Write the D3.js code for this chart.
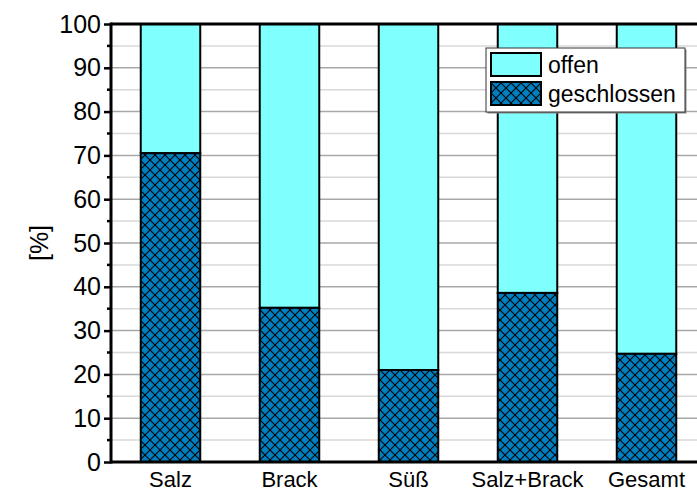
<!DOCTYPE html>
<html><head><meta charset="utf-8">
<script src="https://cdn.jsdelivr.net/npm/d3@7"></script>
<style>body{margin:0;background:#fff}svg{display:block}</style>
</head><body>
<svg id="c" width="697" height="494"></svg>
<script>
const categories = ["Salz","Brack","Süß","Salz+Brack","Gesamt"];
const geschlossen = [70.5, 35.2, 21.0, 38.6, 24.7];
const offen = [29.5, 64.8, 79.0, 61.4, 75.3];
const yTicks = [0,10,20,30,40,50,60,70,80,90,100];
const seriesNames = ["offen","geschlossen"];

const svg = d3.select("#c");
const W = 697, H = 494;
const m = {left:111, top:24, right:-9, bottom:32};
const x = d3.scaleBand().domain(categories).range([m.left, W - m.right]).paddingInner(0.5).paddingOuter(0.25);
const y = d3.scaleLinear().domain([0,100]).range([H - m.bottom, m.top]);
const font = "Liberation Sans, Arial, sans-serif";

const defs = svg.append("defs");
const pat = defs.append("pattern").attr("id","hatch").attr("patternUnits","userSpaceOnUse")
  .attr("width",10).attr("height",10);
pat.append("rect").attr("width",10).attr("height",10).attr("fill","#0080C0");
pat.append("path").attr("d","M0,0L10,10M10,0L0,10M-1,9L1,11M9,-1L11,1").attr("stroke","#000").attr("stroke-width",1.1);

// grid
const minor = d3.range(5,100,10);
svg.append("g").selectAll("line").data(minor).join("line")
  .attr("x1",m.left).attr("x2",W).attr("y1",d=>y(d)).attr("y2",d=>y(d))
  .attr("stroke","#d8d8d8").attr("stroke-width",1.5);
svg.append("g").selectAll("line").data(yTicks.filter(d=>d>0&&d<100)).join("line")
  .attr("x1",m.left).attr("x2",W).attr("y1",d=>y(d)).attr("y2",d=>y(d))
  .attr("stroke","#a8a8a8").attr("stroke-width",1.5);

// bars
const g = svg.append("g");
categories.forEach((c,i)=>{
  g.append("rect").attr("x",x(c)).attr("width",x.bandwidth())
    .attr("y",y(geschlossen[i]+offen[i])).attr("height",y(geschlossen[i])-y(geschlossen[i]+offen[i]))
    .attr("fill","#80FFFF").attr("stroke","#000").attr("stroke-width",2);
  g.append("rect").attr("x",x(c)).attr("width",x.bandwidth())
    .attr("y",y(geschlossen[i])).attr("height",y(0)-y(geschlossen[i]))
    .attr("fill","url(#hatch)").attr("stroke","#000").attr("stroke-width",2);
});

// axes
const ya = svg.append("g").attr("transform",`translate(${m.left},0)`)
  .call(d3.axisLeft(y).tickValues(yTicks).tickSize(7).tickPadding(3).tickFormat(d3.format("d")));
ya.select(".domain").remove();
ya.selectAll(".tick line").attr("stroke","#000").attr("stroke-width",2.5);
ya.selectAll("text").style("font-family",font).style("font-size","25px").attr("fill","#000");
svg.append("g").selectAll("line").data(minor).join("line")
  .attr("x1",m.left-4).attr("x2",m.left).attr("y1",d=>y(d)).attr("y2",d=>y(d))
  .attr("stroke","#000").attr("stroke-width",2.5);
svg.append("line").attr("x1",m.left).attr("x2",m.left).attr("y1",y(100)-1.5).attr("y2",y(0)+1.5).attr("stroke","#000").attr("stroke-width",3);
svg.append("line").attr("x1",m.left).attr("x2",W).attr("y1",y(100)).attr("y2",y(100)).attr("stroke","#000").attr("stroke-width",3);
svg.append("line").attr("x1",m.left).attr("x2",W).attr("y1",y(0)).attr("y2",y(0)).attr("stroke","#000").attr("stroke-width",3);

const xa = svg.append("g").attr("transform",`translate(0,${y(0)})`)
  .call(d3.axisBottom(x).tickSize(0).tickPadding(9));
xa.select(".domain").remove();
xa.selectAll("text").style("font-family",font).style("font-size","22px").attr("fill","#000");

svg.append("text").attr("transform",`translate(48,${(y(0)+y(100))/2}) rotate(-90)`)
  .attr("text-anchor","middle").style("font-family",font).style("font-size","25px").text("[%]");

// legend
const lg = svg.append("g").attr("transform","translate(486,48)");
lg.append("rect").attr("x",1.5).attr("y",1.5).attr("width",199).attr("height",64).attr("fill","#888");
lg.append("rect").attr("width",199).attr("height",64).attr("fill","#fff").attr("stroke","#333").attr("stroke-width",1);
const fills = ["#80FFFF","url(#hatch)"];
seriesNames.forEach((n,i)=>{
  lg.append("rect").attr("x",5).attr("y",5+i*29).attr("width",50).attr("height",23)
    .attr("fill",fills[i]).attr("stroke","#000").attr("stroke-width",2);
  lg.append("text").attr("x",62).attr("y",25+i*29).style("font-family",font).style("font-size","23px").text(n);
});
</script>
</body></html>
